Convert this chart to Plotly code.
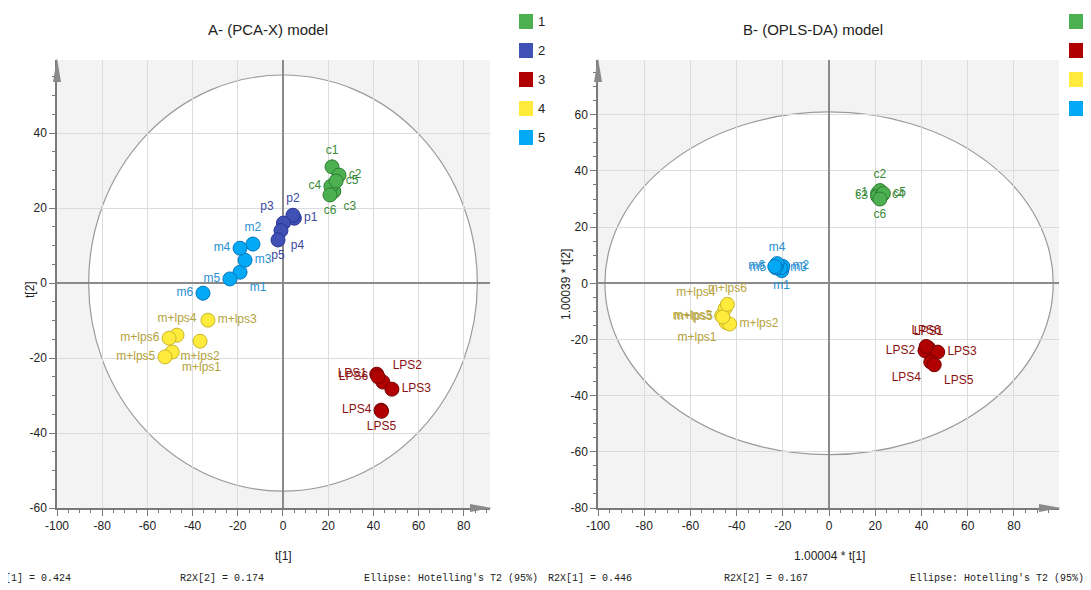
import plotly.graph_objects as go

W, H = 1091, 590
OFF = 8  # page body margin in the browser

# ---------------- data ----------------
classes = ["1", "2", "3", "4", "5"]
class_fill = ["#4CAF50", "#3F51B5", "#B00000", "#FFEB3B", "#03A9F4"]
class_edge = ["#2E7D32", "#283593", "#7A0000", "#C9B52A", "#0277BD"]
class_text = ["#3A8A3A", "#3A48A0", "#8B1010", "#B5A33A", "#2A8FCF"]

# PCA-X model scores
pca_labels = ["c1", "c2", "c3", "c4", "c5", "c6",
              "p1", "p2", "p3", "p4", "p5",
              "LPS1", "LPS2", "LPS3", "LPS4", "LPS5", "LPS6",
              "m+lps1", "m+lps2", "m+lps3", "m+lps4", "m+lps5", "m+lps6",
              "m1", "m2", "m3", "m4", "m5", "m6"]
pca_class = ["1"] * 6 + ["2"] * 5 + ["3"] * 6 + ["4"] * 6 + ["5"] * 6
pca_t1 = [21.7, 24.8, 22.5, 21.2, 23.5, 20.8,
          5.0, 4.4, 0.2, -0.9, -2.2,
          41.5, 44.2, 48.2, 43.4, 43.6, 42.0,
          -49.0, -36.7, -33.2, -46.9, -52.2, -50.4,
          -19.0, -13.3, -16.8, -19.0, -23.5, -35.4]
pca_t2 = [31.0, 28.8, 24.5, 25.8, 27.2, 23.5,
          17.3, 18.1, 16.0, 14.0, 11.5,
          -24.3, -26.4, -28.3, -33.9, -34.2, -25.0,
          -18.4, -15.5, -9.9, -13.9, -19.7, -14.7,
          2.9, 10.4, 6.1, 9.3, 1.1, -2.7]

# OPLS-DA model scores (p group not in model)
opls_labels = ["c1", "c2", "c3", "c4", "c5", "c6",
               "LPS1", "LPS2", "LPS3", "LPS4", "LPS5", "LPS6",
               "m+lps1", "m+lps2", "m+lps3", "m+lps4", "m+lps5", "m+lps6",
               "m1", "m2", "m3", "m4", "m5", "m6"]
opls_class = ["1"] * 6 + ["3"] * 6 + ["4"] * 6 + ["5"] * 6
opls_t1 = [21.0, 22.0, 21.0, 23.0, 23.5, 22.0,
           43.0, 41.5, 47.0, 44.0, 45.5, 42.0,
           -44.5, -43.0, -46.5, -45.0, -46.0, -44.0,
           -20.5, -20.0, -21.0, -22.5, -23.0, -23.5]
opls_t2 = [32.0, 33.0, 31.0, 31.5, 32.0, 30.0,
           -23.0, -24.0, -24.5, -28.0, -29.0, -22.5,
           -14.0, -14.5, -11.5, -9.0, -12.0, -7.5,
           4.5, 6.0, 5.5, 7.0, 5.5, 6.0]

# Hotelling's T2 (95%) ellipse semi-axes
pca_ellipse = (86.0, 55.5)
opls_ellipse = (97.0, 61.0)

pca_stats = ["R2X[1] = 0.424", "R2X[2] = 0.174", "Ellipse: Hotelling's T2 (95%)"]
opls_stats = ["R2X[1] = 0.446", "R2X[2] = 0.167", "Ellipse: Hotelling's T2 (95%)"]

x_ticks = [-100, -80, -60, -40, -20, 0, 20, 40, 60, 80]
pca_y_ticks = [-60, -40, -20, 0, 20, 40]
opls_y_ticks = [-80, -60, -40, -20, 0, 20, 40, 60]

# ---------------- label placement (style) ----------------
pca_pos = {"c1": "top center", "c2": "middle right", "c3": "bottom right", "c4": "middle left",
           "c5": "middle right", "c6": "bottom center",
           "p1": "middle right", "p2": "top center", "p3": "top left", "p4": "bottom right",
           "p5": "bottom center",
           "LPS1": "middle left", "LPS2": "top right", "LPS3": "middle right", "LPS4": "middle left",
           "LPS5": "bottom center", "LPS6": "middle left",
           "m+lps1": "bottom right", "m+lps2": "bottom center", "m+lps3": "middle right",
           "m+lps4": "top center", "m+lps5": "middle left", "m+lps6": "middle left",
           "m1": "bottom right", "m2": "top center", "m3": "middle right", "m4": "middle left",
           "m5": "middle left", "m6": "middle left"}
opls_pos = {"c1": "middle left", "c2": "top center", "c3": "middle left", "c4": "middle right",
            "c5": "middle right", "c6": "bottom center",
            "LPS1": "top center", "LPS2": "middle left", "LPS3": "middle right", "LPS4": "bottom left",
            "LPS5": "bottom right", "LPS6": "top center",
            "m+lps1": "bottom left", "m+lps2": "middle right", "m+lps3": "middle left",
            "m+lps4": "top left", "m+lps5": "middle left", "m+lps6": "top center",
            "m1": "bottom center", "m2": "middle right", "m3": "middle right", "m4": "top center",
            "m5": "middle left", "m6": "middle left"}

FONT = "Liberation Sans, Arial, sans-serif"
MONO = "Liberation Mono, DejaVu Sans Mono, monospace"


def px(x):
    return (x - OFF) / W


def py(y):
    return 1 - (y - OFF) / H


def tick_text(vals):
    return [str(v) for v in vals]  # plain hyphen minus as in the reference


fig = go.Figure()


def add_model(labels, cls, t1, t2, pos, xa, ya):
    for ci, c in enumerate(classes):
        idx = [i for i, k in enumerate(cls) if k == c]
        if not idx:
            continue
        fig.add_trace(go.Scatter(
            x=[t1[i] for i in idx], y=[t2[i] for i in idx],
            text=[labels[i] for i in idx],
            textposition=[pos[labels[i]] for i in idx],
            mode="markers+text", xaxis=xa, yaxis=ya, showlegend=False,
            marker=dict(size=14, color=class_fill[ci], line=dict(color=class_edge[ci], width=1)),
            textfont=dict(family=FONT, size=12, color=class_text[ci]),
            hoverinfo="text"))


add_model(pca_labels, pca_class, pca_t1, pca_t2, pca_pos, "x", "y")
add_model(opls_labels, opls_class, opls_t1, opls_t2, opls_pos, "x2", "y2")

ax_common = dict(showgrid=True, gridcolor="#DCDCDC", gridwidth=1,
                 zeroline=True, zerolinecolor="#8A8A8A", zerolinewidth=2,
                 showline=True, linecolor="#7A7A7A", linewidth=1.5,
                 ticks="outside", ticklen=6, tickcolor="#7A7A7A",
                 tickfont=dict(family=FONT, size=12, color="#222"),
                 minor=dict(dtick=5, tick0=0, ticks="outside", ticklen=3, tickcolor="#7A7A7A",
                            showgrid=False),
                 tickmode="array", fixedrange=True, automargin=False)

y_dom = [py(508), py(60)]
fig.update_layout(
    width=W, height=H,
    margin=dict(l=0, r=0, t=0, b=0, pad=0, autoexpand=False),
    paper_bgcolor="white", plot_bgcolor="#F3F3F3",
    xaxis=dict(domain=[px(57), px(490)], range=[-100, 91.6], anchor="y",
               tickvals=x_ticks, ticktext=tick_text(x_ticks), **ax_common),
    yaxis=dict(domain=y_dom, range=[-60, 59.5], anchor="x",
               tickvals=pca_y_ticks, ticktext=tick_text(pca_y_ticks), **ax_common),
    xaxis2=dict(domain=[px(598), px(1059)], range=[-100, 99.5], anchor="y2",
                tickvals=x_ticks, ticktext=tick_text(x_ticks), **ax_common),
    yaxis2=dict(domain=y_dom, range=[-80, 79.5], anchor="x2",
                tickvals=opls_y_ticks, ticktext=tick_text(opls_y_ticks), **ax_common),
)

shapes = []
for (a, b), xr, yr in [(pca_ellipse, "x", "y"), (opls_ellipse, "x2", "y2")]:
    shapes.append(dict(type="circle", xref=xr, yref=yr, x0=-a, x1=a, y0=-b, y1=b,
                       fillcolor="white", line=dict(color="#9A9A9A", width=1.2), layer="below"))

# axis arrows
for xl, xr_, yb in [(57, 490, 508), (598, 1059, 508)]:
    shapes.append(dict(type="path", xref="paper", yref="paper", fillcolor="#8A8A8A",
                       line=dict(width=0),
                       path=f"M {px(xl-4)} {py(82)} L {px(xl)} {py(58)} L {px(xl+4)} {py(82)} Z"))
    shapes.append(dict(type="path", xref="paper", yref="paper", fillcolor="#8A8A8A",
                       line=dict(width=0),
                       path=f"M {px(xr_-20)} {py(yb-4)} L {px(xr_+2)} {py(yb)} L {px(xr_-20)} {py(yb+4)} Z"))

annotations = []
# legends
for lx, present in [(519, classes), (1069, sorted(set(opls_class)))]:
    for k, c in enumerate(present):
        ci = classes.index(c)
        top = 14 + 29 * k
        shapes.append(dict(type="rect", xref="paper", yref="paper",
                           x0=px(lx), x1=px(lx + 14), y0=py(top + 15), y1=py(top),
                           fillcolor=class_fill[ci], line=dict(width=0)))
        annotations.append(dict(xref="paper", yref="paper", x=px(lx + 17), y=py(top + 7.5),
                                text=c, showarrow=False, xanchor="left", yanchor="middle",
                                font=dict(family=FONT, size=13, color="#222")))

# titles
annotations += [
    dict(xref="paper", yref="paper", x=px(268), y=py(30), text="A- (PCA-X) model", showarrow=False,
         xanchor="center", yanchor="middle", font=dict(family=FONT, size=15, color="#222")),
    dict(xref="paper", yref="paper", x=px(813), y=py(30), text="B- (OPLS-DA) model", showarrow=False,
         xanchor="center", yanchor="middle", font=dict(family=FONT, size=15, color="#222")),
    dict(xref="paper", yref="paper", x=px(283), y=py(556), text="t[1]", showarrow=False,
         xanchor="center", yanchor="middle", font=dict(family=FONT, size=12, color="#222")),
    dict(xref="paper", yref="paper", x=px(829), y=py(556), text="1.00004 * t[1]", showarrow=False,
         xanchor="center", yanchor="middle", font=dict(family=FONT, size=12, color="#222")),
    dict(xref="paper", yref="paper", x=px(30), y=py(290), text="t[2]", showarrow=False, textangle=-90,
         xanchor="center", yanchor="middle", font=dict(family=FONT, size=12, color="#222")),
    dict(xref="paper", yref="paper", x=px(566), y=py(285), text="1.00039 * t[2]", showarrow=False,
         textangle=-90, xanchor="center", yanchor="middle", font=dict(family=FONT, size=12, color="#222")),
]

# statistics footer
footer = [
    (pca_stats[0], 73, "right"), (pca_stats[1], 178, "left"), (pca_stats[2], 362, "left"),
    (opls_stats[0], 546, "left"), (opls_stats[1], 722, "left"), (opls_stats[2], 908, "left"),
]
for txt, xp, anc in footer:
    annotations.append(dict(xref="paper", yref="paper", x=px(xp), y=py(578), text=txt,
                            showarrow=False, xanchor=anc, yanchor="middle",
                            font=dict(family=MONO, size=10, color="#222")))

fig.update_layout(shapes=shapes, annotations=annotations)
fig.write_html("out.html")
